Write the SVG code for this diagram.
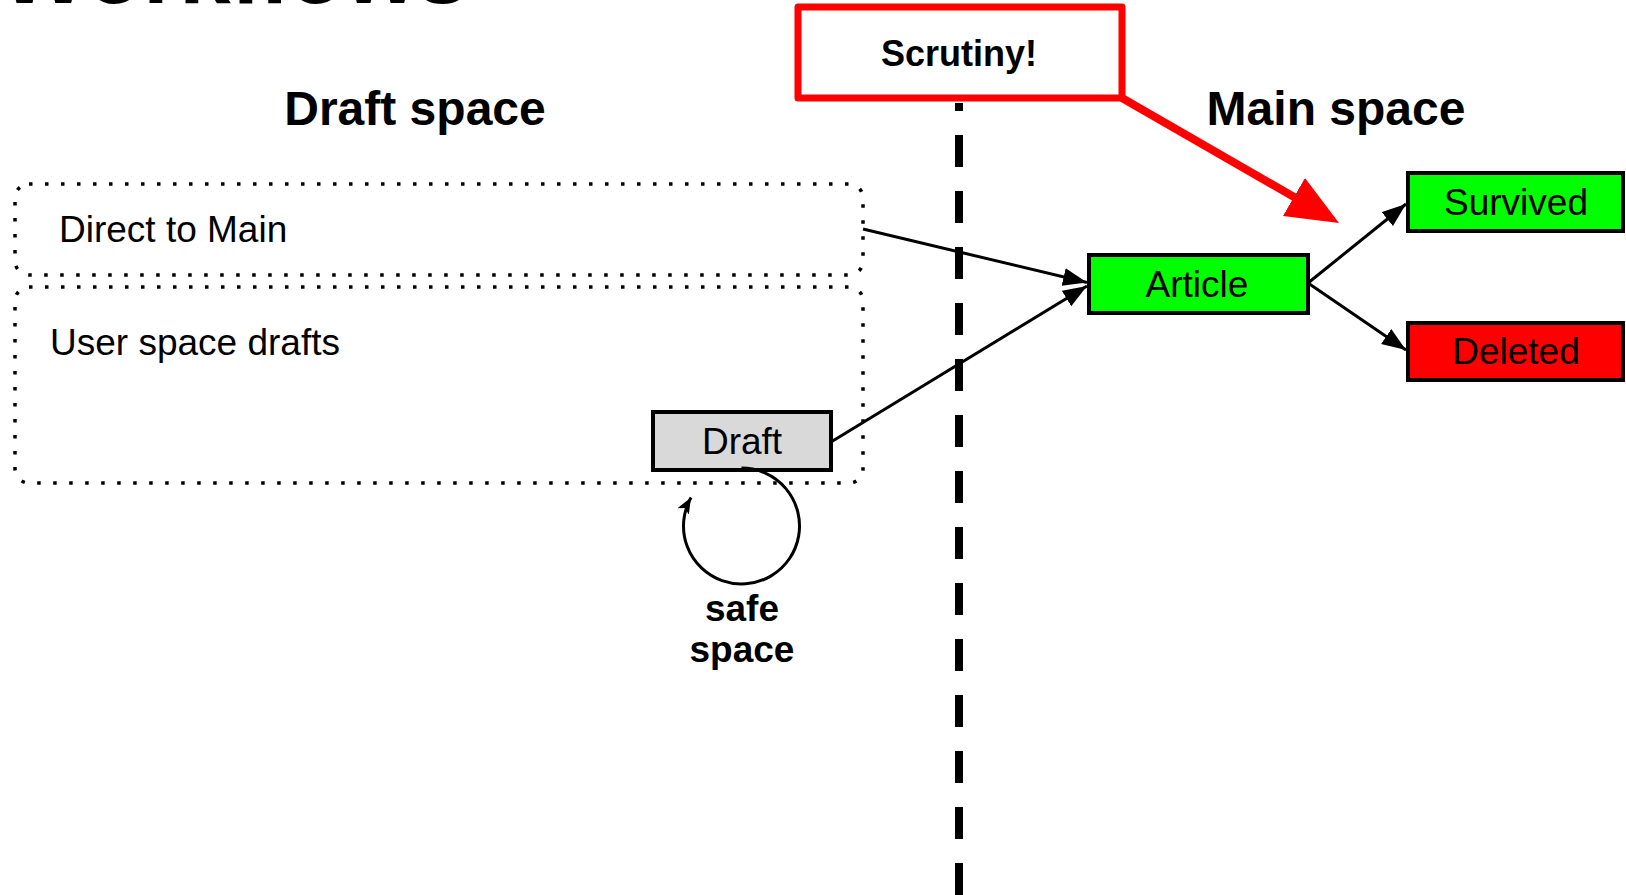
<svg xmlns="http://www.w3.org/2000/svg" width="1626" height="895" viewBox="0 0 1626 895">
<style>
text{font-family:"Liberation Sans",Arial,sans-serif;fill:#000}
.b{font-weight:bold}
.lbl{font-size:37px}
.node{stroke:#000;stroke-width:4}
.zone{fill:none;stroke:#000;stroke-width:3.5;stroke-dasharray:3.5 12.5}
.conn{stroke:#000;stroke-width:3;fill:none}
</style>
<defs>
<marker id="ah" markerUnits="userSpaceOnUse" markerWidth="26" markerHeight="20" refX="24" refY="9" orient="auto"><path d="M0,0 L24,9 L0,18 z" fill="#000"/></marker>
<marker id="ahs" markerUnits="userSpaceOnUse" markerWidth="18" markerHeight="14" refX="16" refY="6.5" orient="auto"><path d="M0,0 L16,6.5 L0,13 L4,6.5 z" fill="#000"/></marker>
<marker id="ahr" markerUnits="userSpaceOnUse" markerWidth="56" markerHeight="46" refX="2" refY="22" orient="auto"><path d="M0,0 L52,22 L0,44 z" fill="#f00"/></marker>
</defs>
<rect width="1626" height="895" fill="#fff"/>
<text class="b" x="0" y="3" font-size="93">Workflows</text>
<text class="b" x="415" y="125" font-size="48" text-anchor="middle">Draft space</text>
<text class="b" x="1336" y="125" font-size="48" text-anchor="middle">Main space</text>
<line x1="959" y1="103" x2="959" y2="895" stroke="#000" stroke-width="8" stroke-dasharray="32 24" stroke-dashoffset="24"/>
<g id="zone-direct"><rect class="zone" x="15" y="184" width="848" height="91" rx="14"/><text class="lbl" x="59" y="242">Direct to Main</text></g>
<g id="zone-user"><rect class="zone" x="15" y="287" width="848" height="196" rx="14"/><text class="lbl" x="50" y="355">User space drafts</text></g>
<g id="scrutiny"><rect x="798" y="7" width="324" height="91" fill="#fff" stroke="#f00" stroke-width="7" stroke-linejoin="round"/><text class="b" x="959" y="66" font-size="36" text-anchor="middle">Scrutiny!</text></g>
<g id="draft"><rect class="node" x="653" y="412" width="178" height="58" fill="#d9d9d9"/><text class="lbl" x="742" y="454" text-anchor="middle">Draft</text></g>
<g id="article"><rect class="node" x="1089" y="255" width="219" height="58" fill="#0f0"/><text class="lbl" x="1197" y="297" text-anchor="middle">Article</text></g>
<g id="survived"><rect class="node" x="1408" y="173" width="215" height="58" fill="#0f0"/><text class="lbl" x="1516" y="215" text-anchor="middle">Survived</text></g>
<g id="deleted"><rect class="node" x="1408" y="323" width="215" height="57" fill="#f00"/><text class="lbl" x="1516" y="364" text-anchor="middle">Deleted</text></g>
<g id="safe-label"><text class="b lbl" x="742" y="621" text-anchor="middle">safe</text><text class="b lbl" x="742" y="662" text-anchor="middle">space</text></g>
<g id="connectors">
<line class="conn" x1="863" y1="229" x2="1087" y2="282.5" marker-end="url(#ah)"/>
<line class="conn" x1="831" y1="442" x2="1087" y2="286" marker-end="url(#ah)"/>
<line class="conn" x1="1308" y1="283" x2="1406" y2="204" marker-end="url(#ah)"/>
<line class="conn" x1="1308" y1="283" x2="1406" y2="350" marker-end="url(#ah)"/>
<path class="conn" d="M741.5,468 A58,58 0 1 1 691,497.5" marker-end="url(#ahs)"/>
<line x1="1122" y1="98" x2="1295.7" y2="198" stroke="#f00" stroke-width="8" marker-end="url(#ahr)"/>
</g>
</svg>
